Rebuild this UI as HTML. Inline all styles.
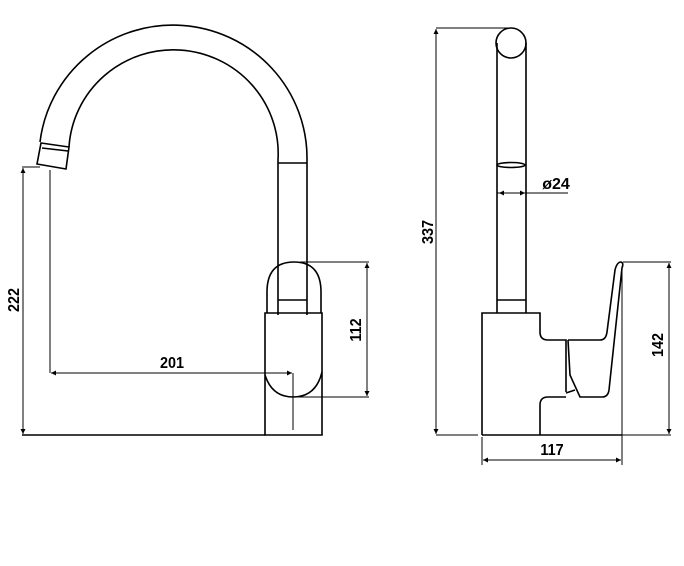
<!DOCTYPE html>
<html><head><style>html,body{margin:0;padding:0;background:#fff}svg{display:block}</style></head>
<body>
<svg width="684" height="566" viewBox="0 0 684 566" xmlns="http://www.w3.org/2000/svg">
<defs>
<marker id="a" viewBox="0 0 10 10" refX="10" refY="5" markerWidth="11" markerHeight="5" orient="auto-start-reverse" markerUnits="userSpaceOnUse"><path d="M0,0 L10,5 L0,10 z" fill="#000"/></marker>
</defs>
<g fill="none" stroke="#000" stroke-width="1.6">
<path d="M40,142 A134,133 0 0 1 307,160 L307,315"/>
<path d="M69,147 A104,103 0 0 1 278,160 L278,315"/>
<line x1="278" y1="163" x2="307" y2="163"/>
<line x1="278" y1="300" x2="307" y2="300"/>
<path d="M41,143 L69,147 L66,169 L37,164 Z"/>
<path d="M42,148 L68,151"/>
<path d="M267,313 L267,292 Q267,262 294,262 Q321,262 321,292 L321,313"/>
<path d="M265,313 L322,313 L322,435 L265,435 Z"/>
<path d="M265,375 Q272,397 293,397 Q316,397 322,372"/>
<line x1="22" y1="435" x2="265" y2="435"/>
</g>
<g fill="none" stroke="#000" stroke-width="1">
<line x1="23" y1="168" x2="23" y2="434" marker-start="url(#a)" marker-end="url(#a)"/>
<line x1="22" y1="167" x2="40" y2="167"/>
<line x1="50" y1="170" x2="50" y2="373"/>
<line x1="51" y1="373" x2="292" y2="373" marker-start="url(#a)" marker-end="url(#a)"/>
<line x1="293" y1="373" x2="293" y2="430"/>
<line x1="300" y1="262" x2="369" y2="262"/>
<line x1="293" y1="397" x2="369" y2="397"/>
<line x1="367" y1="263" x2="367" y2="396" marker-start="url(#a)" marker-end="url(#a)"/>
<line x1="436" y1="29" x2="436" y2="434" marker-start="url(#a)" marker-end="url(#a)"/>
<line x1="436" y1="28" x2="510" y2="28"/>
<line x1="436" y1="435" x2="478" y2="435"/>
<line x1="497" y1="193" x2="568" y2="193"/>
<line x1="499" y1="193" x2="512" y2="193" marker-start="url(#a)"/>
<line x1="512" y1="193" x2="525" y2="193" marker-end="url(#a)"/>
<line x1="623" y1="262" x2="671" y2="262"/>
<line x1="622" y1="435" x2="671" y2="435"/>
<line x1="669" y1="263" x2="669" y2="434" marker-start="url(#a)" marker-end="url(#a)"/>
<line x1="482" y1="437" x2="482" y2="465"/>
<line x1="622" y1="266" x2="622" y2="465"/>
<line x1="483" y1="460" x2="621" y2="460" marker-start="url(#a)" marker-end="url(#a)"/>
</g>
<g fill="none" stroke="#000" stroke-width="1.6">
<circle cx="511" cy="43" r="15"/>
<line x1="497" y1="43" x2="497" y2="313"/>
<line x1="526" y1="43" x2="526" y2="313"/>
<ellipse cx="511" cy="165" rx="14" ry="2.5"/>
<line x1="497" y1="300" x2="526" y2="300"/>
<path d="M482,435 L482,313 L540,313 L540,332 Q540,340 548,340 L566,340 L566,392"/>
<path d="M566,397 L548,397 Q540,397 540,405 L540,435"/>
<line x1="482" y1="435" x2="622" y2="435"/>
<path d="M568,340 L600,340 Q606,340 607,332 L615,270 Q617,262 621,262 Q624,263 622,268 L609,390 Q608,397 602,397 L580,397 L570,375 L568,340"/>
<line x1="566" y1="393" x2="575" y2="390"/>
</g>
<g font-family="Liberation Sans, sans-serif" font-weight="bold" font-size="16" fill="#000">
<text x="172" y="368" text-anchor="middle" transform="translate(172,0) scale(0.9,1) translate(-172,0)">201</text>
<text x="552" y="455" text-anchor="middle" transform="translate(552,0) scale(0.9,1) translate(-552,0)">117</text>
<text x="556" y="189" text-anchor="middle">ø24</text>
<text transform="translate(19,300) rotate(-90) scale(0.9,1)" text-anchor="middle">222</text>
<text transform="translate(361,330) rotate(-90) scale(0.9,1)" text-anchor="middle">112</text>
<text transform="translate(433,232) rotate(-90) scale(0.9,1)" text-anchor="middle">337</text>
<text transform="translate(663,345) rotate(-90) scale(0.9,1)" text-anchor="middle">142</text>
</g>
</svg>
</body></html>
